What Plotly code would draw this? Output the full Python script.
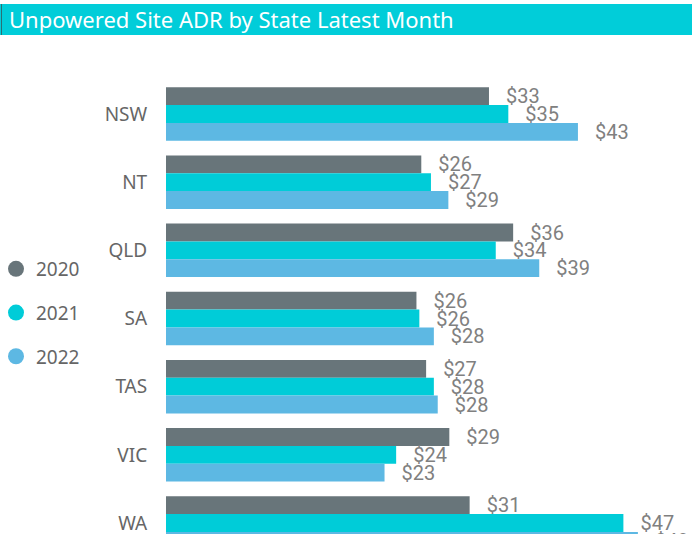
import plotly.graph_objects as go

states = ["NSW", "NT", "QLD", "SA", "TAS", "VIC", "WA"]
years = ["2020", "2021", "2022"]
adr_2020 = [33.4, 26.4, 35.9, 25.9, 26.9, 29.3, 31.4]
adr_2021 = [35.4, 27.4, 34.1, 26.2, 27.7, 23.8, 47.3]
adr_2022 = [42.6, 29.2, 38.6, 27.7, 28.1, 22.6, 48.8]
colors = ["#68757A", "#00CCD8", "#5DB8E3"]

W, H = 692, 534
ML, MT = 166, 40
plot_w = W - ML
plot_h = H - MT
px_per_unit = 9.67
group_px = 68.17
first_center = 114

fig = go.Figure()
series = [adr_2020, adr_2021, adr_2022]
for yr, vals, col in zip(years, series, colors):
    fig.add_trace(go.Bar(
        y=states, x=vals, orientation="h", name=yr, marker_color=col,
        marker_line_width=0,
        texttemplate="\u00a0\u00a0\u2009$%{x:.0f}", textposition="outside",
        constraintext="none",
        textfont=dict(family="Roboto", size=20, color="#808080"),
        showlegend=False, hoverinfo="skip"))
for yr, col in zip(years, colors):
    fig.add_trace(go.Scatter(
        x=[None], y=[None], mode="markers", name=yr, legendgroup=yr,
        marker=dict(symbol="circle", size=19, color=col), showlegend=True))

top_idx = (MT - first_center) / group_px
bot_idx = (H - first_center) / group_px

fig.update_layout(
    width=W, height=H,
    margin=dict(l=ML, r=0, t=MT, b=0, pad=0, autoexpand=False),
    plot_bgcolor="white", paper_bgcolor="white",
    barmode="group", bargap=0.215, bargroupgap=0,
    xaxis=dict(range=[0, plot_w / px_per_unit], visible=False, automargin=False),
    yaxis=dict(range=[bot_idx, top_idx], type="category", automargin=False,
               showgrid=False, zeroline=False, showline=False,
               ticks="outside", ticklen=14, tickcolor="rgba(0,0,0,0)",
               tickfont=dict(family="Noto Sans", size=19, color="#666666")),
    legend=dict(xref="paper", yref="container", x=-(ML + 4) / plot_w, y=1 - 313 / H,
                xanchor="left", yanchor="middle", tracegroupgap=16,
                font=dict(family="Noto Sans", size=19, color="#666666"),
                bgcolor="rgba(0,0,0,0)"),
    title=dict(text="Unpowered Site ADR by State Latest Month",
               xref="container", yref="container", x=9 / W, y=1 - 20 / H,
               xanchor="left", yanchor="middle",
               font=dict(family="Noto Sans", size=22, color="white")),
    shapes=[
        dict(type="rect", xref="paper", yref="paper",
             x0=-ML / plot_w, x1=1, y0=1 + (MT - 35) / plot_h, y1=1 + (MT - 4) / plot_h,
             fillcolor="#01CDD9", line_width=0, layer="below"),
        dict(type="line", xref="paper", yref="paper",
             x0=-(ML - 1.5) / plot_w, x1=-(ML - 1.5) / plot_w,
             y0=1 + (MT - 35) / plot_h, y1=1 + (MT - 4) / plot_h,
             line=dict(color="#2a6f74", width=1)),
    ],
)
fig.write_html(
    "out.html",
    config={"displayModeBar": False},
    post_script="document.body.style.margin='0';document.body.style.overflow='hidden';",
)
